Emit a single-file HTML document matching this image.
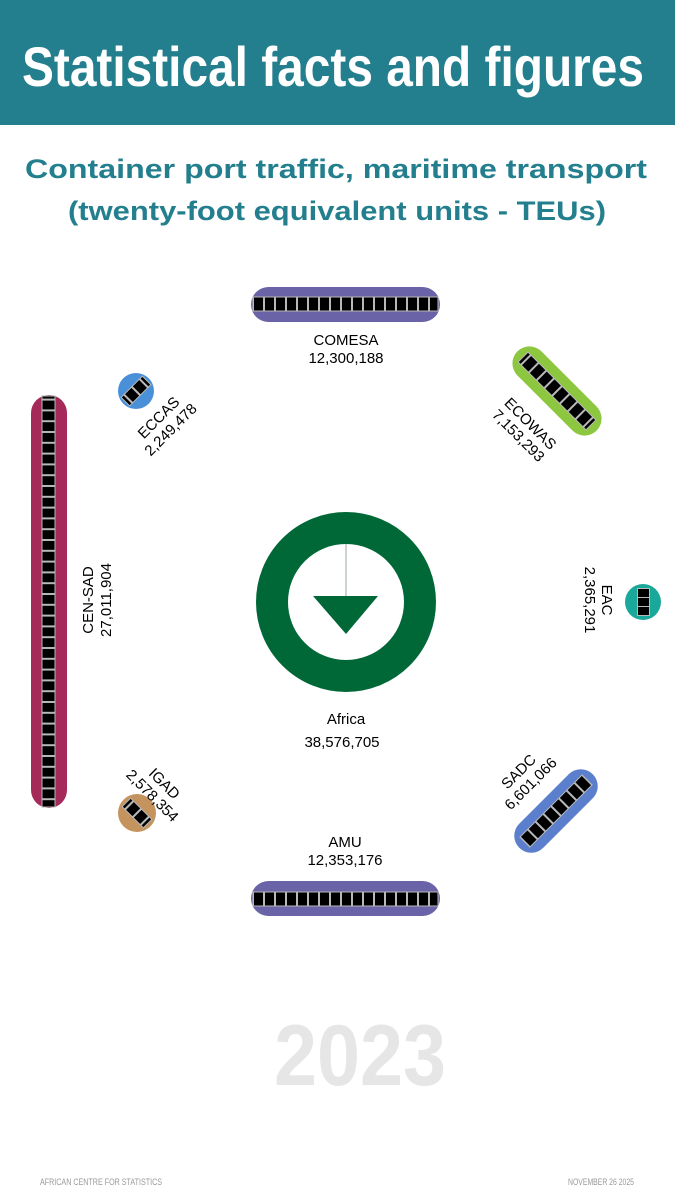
<!DOCTYPE html>
<html><head><meta charset="utf-8"><style>
html,body{margin:0;padding:0;background:#fff;}
svg{display:block;}
</style></head><body>
<svg width="675" height="1200" viewBox="0 0 675 1200" xmlns="http://www.w3.org/2000/svg" font-family="Liberation Sans, Arial, sans-serif">
<defs>
<pattern id="sqH" patternUnits="userSpaceOnUse" x="0" y="0" width="11" height="40">
<rect x="0" y="0" width="11" height="40" fill="#b9b9b9"/>
<rect x="1" y="0" width="9" height="40" fill="#000"/>
</pattern>
<pattern id="sqV" patternUnits="userSpaceOnUse" x="0" y="0" width="40" height="10.8">
<rect x="0" y="0" width="40" height="10.8" fill="#b9b9b9"/>
<rect x="0" y="1" width="40" height="8.8" fill="#000"/>
</pattern>
</defs>
<rect x="0" y="0" width="675" height="125" fill="#237F8E"/>
<text x="333" y="86" fill="#fff" font-size="56" font-weight="bold" text-anchor="middle" textLength="622" lengthAdjust="spacingAndGlyphs">Statistical facts and figures</text>
<text x="336" y="178" fill="#237F8E" font-size="27" font-weight="bold" text-anchor="middle" textLength="622" lengthAdjust="spacingAndGlyphs">Container port traffic, maritime transport</text>
<text x="337" y="220" fill="#237F8E" font-size="27" font-weight="bold" text-anchor="middle" textLength="538" lengthAdjust="spacingAndGlyphs">(twenty-foot equivalent units - TEUs)</text>

<!-- COMESA -->
<rect x="251" y="287" width="189" height="35" rx="17.5" fill="#6A63A8"/>
<rect x="253" y="297" width="185" height="14" fill="url(#sqH)" stroke="#b9b9b9" stroke-width="1"/>
<text x="346" y="345" font-size="15" text-anchor="middle">COMESA</text>
<text x="346" y="363" font-size="15" text-anchor="middle">12,300,188</text>

<!-- AMU -->
<rect x="251" y="881" width="189" height="35" rx="17.5" fill="#6A63A8"/>
<rect x="253" y="892" width="185" height="14" fill="url(#sqH)" stroke="#b9b9b9" stroke-width="1"/>
<text x="345" y="847" font-size="15" text-anchor="middle">AMU</text>
<text x="345" y="865" font-size="15" text-anchor="middle">12,353,176</text>

<!-- CEN-SAD -->
<rect x="31" y="395" width="36" height="413" rx="18" fill="#A52A5A"/>
<rect x="42" y="396" width="13" height="411" fill="url(#sqV)" stroke="#b9b9b9" stroke-width="1"/>
<g transform="translate(100,600) rotate(-90)">
<text x="0" y="-7" font-size="15" text-anchor="middle">CEN-SAD</text>
<text x="0" y="11" font-size="15" text-anchor="middle">27,011,904</text>
</g>

<!-- ECCAS -->
<circle cx="136" cy="391" r="18" fill="#4A90D9"/>
<g transform="translate(136,391) rotate(-45)">
<rect x="-15" y="-6" width="30" height="12" fill="url(#sqH)" stroke="#b9b9b9"/>
</g>
<g transform="translate(165,424) rotate(-45)">
<text x="0" y="-4" font-size="15" text-anchor="middle">ECCAS</text>
<text x="0" y="13" font-size="15" text-anchor="middle">2,249,478</text>
</g>

<!-- ECOWAS -->
<g transform="translate(557,391) rotate(45)">
<rect x="-56" y="-17" width="112" height="34" rx="17" fill="#8DC63F"/>
<rect x="-48" y="-7" width="96" height="14" fill="url(#sqH)" stroke="#b9b9b9"/>
</g>
<g transform="translate(524,430) rotate(45)">
<text x="0" y="-4" font-size="15" text-anchor="middle">ECOWAS</text>
<text x="0" y="13" font-size="15" text-anchor="middle">7,153,293</text>
</g>

<!-- EAC -->
<circle cx="643" cy="602" r="18" fill="#1AA89A"/>
<rect x="637" y="588" width="13" height="28" fill="#b9b9b9"/>
<rect x="638" y="589" width="11" height="8" fill="#000"/>
<rect x="638" y="598" width="11" height="8" fill="#000"/>
<rect x="638" y="607" width="11" height="8" fill="#000"/>
<g transform="translate(598,600) rotate(90)">
<text x="0" y="-4" font-size="15" text-anchor="middle">EAC</text>
<text x="0" y="13" font-size="15" text-anchor="middle">2,365,291</text>
</g>

<!-- SADC -->
<g transform="translate(556,811) rotate(-45)">
<rect x="-52" y="-17" width="104" height="34" rx="17" fill="#5B7FCC"/>
<rect x="-44" y="-7" width="88" height="14" fill="url(#sqH)" stroke="#b9b9b9"/>
</g>
<g transform="translate(525,778) rotate(-45)">
<text x="0" y="-4" font-size="15" text-anchor="middle">SADC</text>
<text x="0" y="13" font-size="15" text-anchor="middle">6,601,066</text>
</g>

<!-- IGAD -->
<circle cx="137" cy="813" r="19" fill="#C4935E"/>
<g transform="translate(137,813) rotate(45)">
<rect x="-15" y="-6" width="30" height="12" fill="url(#sqH)" stroke="#b9b9b9"/>
</g>
<g transform="translate(158,790) rotate(45)">
<text x="0" y="-4" font-size="15" text-anchor="middle">IGAD</text>
<text x="0" y="13" font-size="15" text-anchor="middle">2,578,354</text>
</g>

<!-- Africa donut -->
<circle cx="346" cy="602" r="74" fill="none" stroke="#006837" stroke-width="32"/>
<line x1="346" y1="544" x2="346" y2="597" stroke="#9aa9a3" stroke-width="1"/>
<polygon points="313,596 378,596 346,634" fill="#006837"/>
<text x="346" y="724" font-size="15" text-anchor="middle">Africa</text>
<text x="342" y="747" font-size="15" text-anchor="middle">38,576,705</text>

<text x="360" y="1085" fill="#E6E6E7" font-size="86" font-weight="bold" text-anchor="middle" textLength="172" lengthAdjust="spacingAndGlyphs">2023</text>

<text x="40" y="1185" fill="#999" font-size="9" textLength="122" lengthAdjust="spacingAndGlyphs">AFRICAN CENTRE FOR STATISTICS</text>
<text x="634" y="1185" fill="#999" font-size="9" text-anchor="end" textLength="66" lengthAdjust="spacingAndGlyphs">NOVEMBER 26 2025</text>
</svg>
</body></html>
